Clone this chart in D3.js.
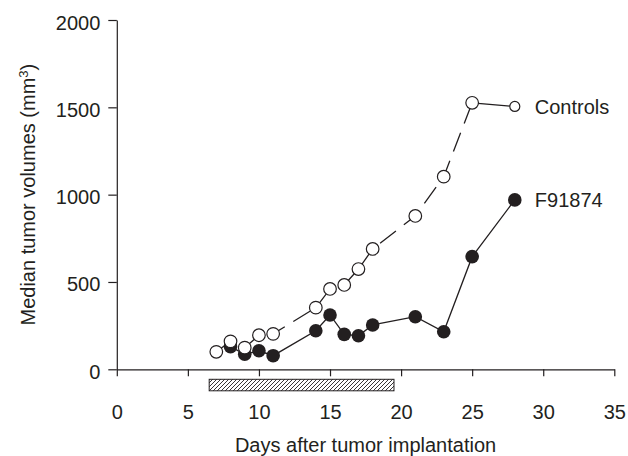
<!DOCTYPE html>
<html>
<head>
<meta charset="utf-8">
<script src="https://cdn.jsdelivr.net/npm/d3@7"></script>
<style>
  html, body { margin: 0; padding: 0; background: #fff; }
  svg { display: block; }
  text { font-family: "Liberation Sans", Arial, Helvetica, sans-serif; fill: #231f20; }
</style>
</head>
<body>
<div id="chart"></div>
<script>
// Median tumor volume over time, controls vs F91874
const controlDays = [7, 8, 9, 10, 11, 14, 15, 16, 17, 18, 21, 23, 25, 28]
const controlVolumes = [100, 160, 124, 195, 203, 353, 460, 483, 574, 689, 878, 1103, 1526, 1505]

const treatedDays = [8, 9, 10, 11, 14, 15, 16, 17, 18, 21, 23, 25, 28]
const treatedVolumes = [130, 86, 106, 78, 221, 311, 200, 192, 254, 301, 215, 645, 970]

const seriesNames = ["Controls", "F91874"]
const treatmentPeriod = [6.5, 19.5]

const xTicks = [0, 5, 10, 15, 20, 25, 30, 35]
const yTicks = [0, 500, 1000, 1500, 2000]

const width = 628
const height = 456
const fontSize = 20

const x = d3.scaleLinear().domain([0, 35]).range([116.8, 614.3])
const y = d3.scaleLinear().domain([0, 2000]).range([369.3, 20])

const svg = d3.select("#chart")
  .append("svg")
  .attr("width", width)
  .attr("height", height)

// hatch pattern for the treatment bar
const defs = svg.append("defs")
defs.append("pattern")
  .attr("id", "hatch")
  .attr("patternUnits", "userSpaceOnUse")
  .attr("width", 4)
  .attr("height", 4)
  .append("path")
  .attr("d", "M-1,1 l2,-2 M0,4 l4,-4 M3,5 l2,-2")
  .attr("stroke", "#231f20")
  .attr("stroke-width", 0.9)

// Axes
const xAxis = svg.append("g")
  .attr("transform", `translate(0,${y(0)})`)
  .call(d3.axisBottom(x).tickValues(xTicks).tickFormat(d3.format("d"))
    .tickSize(7).tickSizeOuter(0).tickPadding(29))
const yAxis = svg.append("g")
  .attr("transform", `translate(${x(0)},0)`)
  .call(d3.axisLeft(y).tickValues(yTicks).tickFormat(d3.format("d"))
    .tickSize(8.5).tickSizeOuter(0).tickPadding(8))

;[xAxis, yAxis].forEach(g => {
  g.attr("font-family", null).attr("font-size", null)
  g.selectAll("path, line").attr("stroke", "#231f20").attr("stroke-width", 1.2)
  g.selectAll("text").attr("font-size", fontSize + "px").attr("fill", "#231f20")
})
yAxis.selectAll("text").attr("dy", "0.45em")

// Treatment period bar
svg.append("rect")
  .attr("x", x(treatmentPeriod[0]))
  .attr("y", y(0) + 10)
  .attr("width", x(treatmentPeriod[1]) - x(treatmentPeriod[0]))
  .attr("height", 11.5)
  .attr("fill", "url(#hatch)")
  .attr("stroke", "#231f20")
  .attr("stroke-width", 1)

// Axis titles
svg.append("text")
  .attr("x", (x(0) + x(35)) / 2)
  .attr("y", 452)
  .attr("text-anchor", "middle")
  .attr("font-size", fontSize + "px")
  .text("Days after tumor implantation")

const yTitle = svg.append("text")
  .attr("transform", `translate(35,${(y(0) + y(2000)) / 2}) rotate(-90)`)
  .attr("text-anchor", "middle")
  .attr("font-size", fontSize + "px")
yTitle.append("tspan").text("Median tumor volumes (mm")
yTitle.append("tspan").attr("font-size", "13px").attr("dy", "-7").text("3")
yTitle.append("tspan").attr("dy", "7").text(")")

const controls = controlDays.map((d, i) => [d, controlVolumes[i]])
const treated = treatedDays.map((d, i) => [d, treatedVolumes[i]])

const line = d3.line().x(d => x(d[0])).y(d => y(d[1]))

// F91874 - solid line, filled dots
svg.append("path")
  .attr("d", line(treated))
  .attr("fill", "none")
  .attr("stroke", "#231f20")
  .attr("stroke-width", 1.3)

svg.selectAll(".dot-treated")
  .data(treated)
  .join("circle")
  .attr("cx", d => x(d[0]))
  .attr("cy", d => y(d[1]))
  .attr("r", 6.8)
  .attr("fill", "#231f20")

// Controls - dashed line, open dots
svg.append("path")
  .attr("d", line(controls.slice(0, -1)))
  .attr("fill", "none")
  .attr("stroke", "#231f20")
  .attr("stroke-width", 1.3)
  .attr("stroke-dasharray", "20,10")
svg.append("path")
  .attr("d", line(controls.slice(-2)))
  .attr("fill", "none")
  .attr("stroke", "#231f20")
  .attr("stroke-width", 1.3)

svg.selectAll(".dot-control")
  .data(controls)
  .join("circle")
  .attr("cx", d => x(d[0]))
  .attr("cy", d => y(d[1]))
  .attr("r", (d, i) => i === controls.length - 1 ? 5 : 6.3)
  .attr("fill", "#fff")
  .attr("stroke", "#231f20")
  .attr("stroke-width", 1.2)

// Series labels next to the last points
;[controls, treated].forEach((s, i) => {
  const last = s[s.length - 1]
  svg.append("text")
    .attr("x", x(last[0]) + 20)
    .attr("y", y(last[1]))
    .attr("dy", "0.36em")
    .attr("font-size", fontSize + "px")
    .text(seriesNames[i])
})
</script>
</body>
</html>
